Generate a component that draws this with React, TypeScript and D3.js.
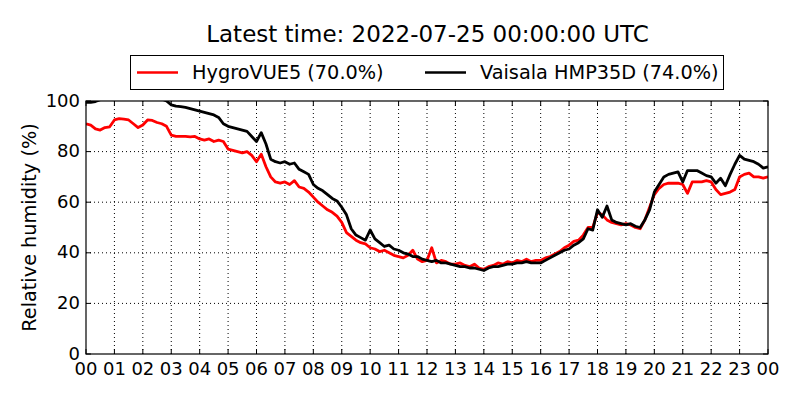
import * as d3 from "d3";

// relative humidity every 10 minutes, 00:00 .. 24:00 (one row per hour)
const hygroVUE5 = [
  91, 90.5, 89, 88.5, 89.5, 89.8,
  92.5, 93, 92.8, 92.5, 91, 89.5,
  90.5, 92.5, 92.3, 91.5, 91, 90,
  86.5, 86, 86, 86, 85.8, 86,
  85, 84.5, 85, 84, 84.5, 84,
  81, 80.5, 80, 79.5, 80, 78.5,
  76, 79, 74, 70, 68, 67.5,
  68, 67, 68.5, 66, 65.5, 64,
  62, 60, 58.5, 57, 56, 54.5,
  52, 48, 46.5, 45, 44, 43.5,
  42, 41.5, 40.5, 41, 40, 39,
  38.5, 38, 39, 41, 37.5, 36.5,
  37, 42, 36, 37, 36.5, 35.5,
  35.5, 36, 35, 34.5, 35.5, 34,
  33.5, 34.5, 35, 36, 35.5, 36.5,
  36, 37, 36.5, 37.5, 36.5, 37,
  37, 38, 38.5, 39.5, 40.5, 42,
  43, 44.5, 45, 47, 50, 50,
  56, 55, 53, 52, 51.5, 51,
  51.5, 51, 50, 49.5, 53, 58,
  63, 65.5, 67, 67.5, 67.5, 67.5,
  67, 63.5, 68, 68, 68, 68.5,
  68, 65, 63, 63.5, 64, 65,
  70, 71, 71.5, 70, 70, 69.5,
  70,
];

const hmp35d = [
  99.5, 99.5, 99.8, 100.5, 101, 101.5,
  102, 102, 102, 102, 102, 102,
  101.5, 101.5, 101, 101, 100.8, 100,
  98.5, 98, 97.8, 97.5, 97, 96.5,
  96, 95.5, 95, 94.5, 93.5, 91,
  90, 89.5, 89, 88.5, 88, 86,
  84, 87.5, 83, 77, 76, 75.5,
  76, 75, 75.5, 73, 72, 71,
  67, 65.5, 64.5, 63, 61.5, 60.5,
  58, 55, 49.5, 47, 46, 45,
  49, 45.5, 44, 42.5, 43, 41.5,
  41, 40, 39.5, 38.5, 38.5, 37.5,
  37, 36.5, 37, 36, 36, 35.5,
  35, 34.5, 34.5, 34, 34, 33.5,
  33, 34, 34.5, 34.5, 35, 35.5,
  35.5, 36, 36, 36.5, 36, 36,
  36, 37, 38, 39, 40, 41,
  41.5, 43, 44, 45.5, 49.5, 49,
  57, 54, 58.5, 53, 52, 51.5,
  51, 51.5, 50.5, 50, 53, 57,
  64, 67, 70, 71, 71.5, 72,
  68, 72.5, 72.5, 72.5, 71.5, 70.5,
  70, 67.5, 69.5, 66.5, 71, 75,
  78.5, 77, 76.5, 76, 75, 73.5,
  74,
];

const hourTicks = d3.range(0, 25);
const hourLabels = hourTicks.map((h) => String(h % 24).padStart(2, "0"));
const rhTicks = [0, 20, 40, 60, 80, 100];

const title = "Latest time: 2022-07-25 00:00:00 UTC";
const seriesNames = ["HygroVUE5 (70.0%)", "Vaisala HMP35D (74.0%)"];
const seriesColors = ["#ff0000", "#000000"];

const W = 800;
const H = 400;
const m = { left: 86, right: 32, top: 101, bottom: 46 };
const font = "'DejaVu Sans', sans-serif";

export default function App() {
  const x = d3.scaleLinear().domain([0, 24]).range([m.left, W - m.right]);
  const y = d3.scaleLinear().domain([0, 100]).range([H - m.bottom, m.top]);

  const line = d3
    .line<number>()
    .x((_, i) => x(i / 6))
    .y((d) => y(d));

  const x0 = x(0), x1 = x(24), y0 = y(0), y1 = y(100);

  return (
    <svg
      width={W}
      height={H}
      style={{ position: "absolute", left: 0, top: 0, background: "#fff" }}
      fontFamily={font}
    >
      <defs>
        <clipPath id="plot">
          <rect x={x0} y={y1} width={x1 - x0} height={y0 - y1} />
        </clipPath>
      </defs>

      {/* dotted grid */}
      <g stroke="#000" strokeWidth={1} strokeDasharray="1 3">
        {hourTicks.slice(1, -1).map((h) => (
          <line key={"gx" + h} x1={x(h)} x2={x(h)} y1={y0} y2={y1} />
        ))}
        {rhTicks.slice(1, -1).map((v) => (
          <line key={"gy" + v} x1={x0} x2={x1} y1={y(v)} y2={y(v)} />
        ))}
      </g>

      <g clipPath="url(#plot)" fill="none" strokeWidth={2.8} strokeLinejoin="round">
        <path d={line(hygroVUE5) ?? ""} stroke={seriesColors[0]} />
        <path d={line(hmp35d) ?? ""} stroke={seriesColors[1]} />
      </g>

      {/* inward ticks on all four sides */}
      <g stroke="#000" strokeWidth={1}>
        {hourTicks.map((h) => (
          <g key={"tx" + h}>
            <line x1={x(h)} x2={x(h)} y1={y0} y2={y0 - 5} />
            <line x1={x(h)} x2={x(h)} y1={y1} y2={y1 + 5} />
          </g>
        ))}
        {rhTicks.map((v) => (
          <g key={"ty" + v}>
            <line x1={x0} x2={x0 + 5} y1={y(v)} y2={y(v)} />
            <line x1={x1} x2={x1 - 5} y1={y(v)} y2={y(v)} />
          </g>
        ))}
      </g>

      <rect x={x0} y={y1} width={x1 - x0} height={y0 - y1} fill="none" stroke="#000" strokeWidth={1.2} />

      <g fontSize={18} fill="#000">
        {hourTicks.map((h, i) => (
          <text key={"lx" + h} x={x(h)} y={y0 + 21} textAnchor="middle">
            {hourLabels[i]}
          </text>
        ))}
        {rhTicks.map((v) => (
          <text key={"ly" + v} x={x0 - 6} y={y(v) + 5.5} textAnchor="end">
            {v}
          </text>
        ))}
      </g>

      <text
        transform={`translate(36,${(y0 + y1) / 2}) rotate(-90)`}
        textAnchor="middle"
        fontSize={19.3}
      >
        Relative humidity (%)
      </text>

      <text x={427.5} y={42} textAnchor="middle" fontSize={23}>
        {title}
      </text>

      {/* legend */}
      <rect x={130.5} y={55.5} width={593} height={34} fill="#fff" stroke="#000" strokeWidth={1} />
      {seriesNames.map((name, i) => {
        const lx = i === 0 ? 137 : 425;
        return (
          <g key={name}>
            <line x1={lx} x2={lx + 41} y1={72.5} y2={72.5} stroke={seriesColors[i]} strokeWidth={2.6} />
            <text x={lx + 55} y={79} fontSize={19.3}>
              {name}
            </text>
          </g>
        );
      })}
    </svg>
  );
}
